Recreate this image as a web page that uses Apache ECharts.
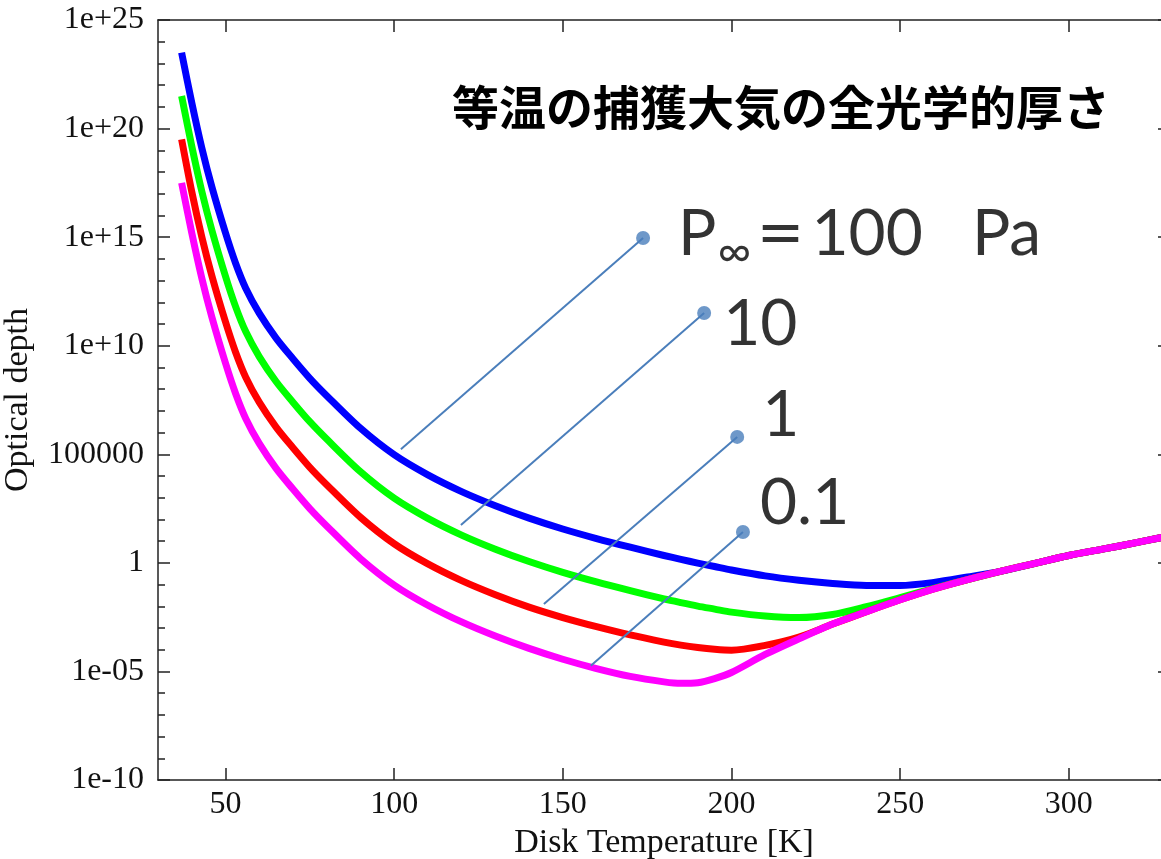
<!DOCTYPE html>
<html>
<head>
<meta charset="utf-8">
<script src="https://cdn.jsdelivr.net/npm/echarts@6/dist/echarts.min.js"></script>
<style>
html,body{margin:0;padding:0;background:#ffffff;}
#chart{width:1161px;height:859px;}
</style>
</head>
<body>
<div id="chart"></div>
<script>
// ---- data ----
const temperatureK = [37, 40, 43, 46, 50, 53, 56, 60, 65, 70, 75, 80, 90, 100, 110, 120, 130, 140, 150, 160, 170, 180, 185, 190, 195, 200, 210, 220, 230, 240, 250, 260, 270, 280, 290, 300, 310, 320, 327.5];
// log10(optical depth) for each pressure
const log10TauP100 = [23.5, 21.2, 19.1, 17.3, 15.2, 13.8, 12.65, 11.5, 10.35, 9.4, 8.5, 7.7, 6.2, 4.98, 4.05, 3.28, 2.63, 2.06, 1.56, 1.12, 0.72, 0.34, 0.16, -0.01, -0.17, -0.33, -0.6, -0.8, -0.95, -1.04, -1.04, -0.9, -0.65, -0.38, -0.02, 0.34, 0.63, 0.93, 1.17];
const log10TauP10  = [21.5, 19.2, 17.1, 15.3, 13.2, 11.8, 10.65, 9.5, 8.35, 7.4, 6.5, 5.7, 4.2, 2.98, 2.05, 1.28, 0.63, 0.06, -0.44, -0.88, -1.28, -1.66, -1.83, -1.99, -2.13, -2.27, -2.45, -2.52, -2.38, -2.02, -1.6, -1.17, -0.77, -0.38, -0.02, 0.34, 0.63, 0.93, 1.17];
const log10TauP1   = [19.5, 17.1, 15.0, 13.2, 11.1, 9.7, 8.55, 7.4, 6.25, 5.3, 4.4, 3.6, 2.1, 0.88, -0.05, -0.82, -1.47, -2.04, -2.52, -2.94, -3.32, -3.65, -3.79, -3.9, -3.98, -4.02, -3.8, -3.42, -2.82, -2.25, -1.7, -1.2, -0.77, -0.38, -0.02, 0.34, 0.63, 0.93, 1.17];
const log10TauP01  = [17.5, 15.2, 13.1, 11.3, 9.2, 7.8, 6.65, 5.5, 4.35, 3.4, 2.5, 1.7, 0.2, -1.02, -1.95, -2.72, -3.37, -3.94, -4.44, -4.87, -5.23, -5.48, -5.55, -5.52, -5.33, -5.05, -4.22, -3.5, -2.82, -2.25, -1.7, -1.2, -0.77, -0.38, -0.02, 0.34, 0.63, 0.93, 1.17];
const pressureLabels = ['100', '10', '1', '0.1'];

const xTickValues = [50, 100, 150, 200, 250, 300];
const yTickValues = [1e-10, 1e-5, 1, 1e5, 1e10, 1e15, 1e20, 1e25];
const yTickLabels = ['1e-10', '1e-05', '1', '100000', '1e+10', '1e+15', '1e+20', '1e+25'];
const yMinorTickValues = [1e-10,1e-9,1e-8,1e-7,1e-6,1e-5,1e-4,1e-3,1e-2,1e-1,1,1e1,1e2,1e3,1e4,1e5,1e6,1e7,1e8,1e9,1e10,1e11,1e12,1e13,1e14,1e15,1e16,1e17,1e18,1e19,1e20,1e21,1e22,1e23,1e24,1e25];

// annotation anchors (data units): dot next to the label, and the end touching the curve
const annotationDotT = [173.8, 191.9, 201.7, 203.4];
const annotationDotLog10 = [14.96, 11.51, 5.80, 1.42];
const annotationEndT = [102.0, 119.8, 144.4, 158.3];
const annotationEndLog10 = [5.23, 1.74, -1.90, -4.74];

const titleText = '等温の捕獲大気の全光学的厚さ';

// ---- build ----
function pairs(ts, logs) { return ts.map((t, i) => [t, Math.pow(10, logs[i])]); }

const curveColors = ['#0000ff', '#00ff00', '#ff0000', '#ff00ff'];
const curveLogs = [log10TauP100, log10TauP10, log10TauP1, log10TauP01];
const leaderColor = '#4a7ebb';
const labelOffsets = [[28, -4], [12, 11], [18, -22], [10, -29]];

const axisColor = '#222';
const serif = 'Liberation Serif, Times New Roman, serif';

const series = [];
curveLogs.forEach((logs, i) => {
  series.push({
    type: 'line', name: pressureLabels[i],
    data: pairs(temperatureK, logs),
    showSymbol: false, symbol: 'none',
    smooth: 0.3,
    lineStyle: { color: curveColors[i], width: 7, cap: 'butt', join: 'round' },
    silent: true, z: 2 + i
  });
});
annotationDotT.forEach((t, i) => {
  series.push({
    type: 'line', silent: true, symbol: 'none', showSymbol: false,
    data: [[annotationEndT[i], Math.pow(10, annotationEndLog10[i])], [t, Math.pow(10, annotationDotLog10[i])]],
    lineStyle: { color: leaderColor, width: 2 }, z: 10
  });
});
series.push({
  type: 'scatter', silent: true, symbol: 'circle', symbolSize: 14,
  itemStyle: { color: leaderColor },
  z: 11,
  data: annotationDotT.map((t, i) => ({
    value: [t, Math.pow(10, annotationDotLog10[i])],
    label: {
      show: true, position: 'right', distance: 0, offset: labelOffsets[i],
      formatter: i === 0 ? '{a|P}{inf|∞}{eq|＝}{a|' + pressureLabels[i] + '   Pa}' : pressureLabels[i],
      fontFamily: 'Lato', fontSize: 64, lineHeight: 64, color: '#000',
      rich: {
        a: { fontFamily: 'Lato', fontSize: 64, lineHeight: 64, color: '#000' },
        inf: { fontFamily: 'Lato', fontSize: 46, lineHeight: 46, color: '#000', padding: [37, 0, 0, 1] },
        eq: { fontFamily: 'Noto Sans CJK JP', fontWeight: 'bold', fontSize: 50, lineHeight: 64, color: '#000', padding: [0, 6, 0, 4] }
      }
    }
  }))
});

function yLabel(v) {
  const e = Math.round(Math.log10(v));
  for (let i = 0; i < yTickValues.length; i++) {
    if (Math.round(Math.log10(yTickValues[i])) === e) return yTickLabels[i];
  }
  return '';
}

const yBase = { type: 'log', logBase: 10, min: 1e-10, max: 1e25, splitLine: { show: false }, axisPointer: { show: false } };

const option = {
  animation: false,
  backgroundColor: '#ffffff',
  title: {
    text: titleText, left: 452, top: 84, padding: 0,
    textStyle: { fontFamily: 'Noto Sans CJK JP', fontWeight: 'bold', fontSize: 47, color: '#000' }
  },
  grid: { left: 158, top: 20, width: 1012, height: 760, containLabel: false, outerBoundsMode: 'none' },
  xAxis: [
    {
      type: 'value', min: 30, max: 330, position: 'bottom',
      name: 'Disk Temperature [K]', nameLocation: 'middle', nameGap: 42,
      nameTextStyle: { fontFamily: serif, fontSize: 34, color: '#111' },
      axisLine: { show: true, onZero: false, lineStyle: { color: axisColor, width: 1.5 } },
      axisTick: { show: true, inside: true, length: 12, customValues: xTickValues, lineStyle: { color: axisColor, width: 1.5 } },
      axisLabel: { show: true, customValues: xTickValues, margin: 9, fontFamily: serif, fontSize: 32, color: '#111' },
      splitLine: { show: false }
    },
    {
      type: 'value', min: 30, max: 330, position: 'top',
      axisLine: { show: true, onZero: false, lineStyle: { color: axisColor, width: 1.5 } },
      axisTick: { show: true, inside: true, length: 12, customValues: xTickValues, lineStyle: { color: axisColor, width: 1.5 } },
      axisLabel: { show: false },
      splitLine: { show: false }
    }
  ],
  yAxis: [
    Object.assign({}, yBase, {
      position: 'left',
      name: 'Optical depth', nameLocation: 'middle', nameGap: 123,
      nameTextStyle: { fontFamily: serif, fontSize: 34, color: '#111' },
      axisLine: { show: true, onZero: false, lineStyle: { color: axisColor, width: 1.5 } },
      axisTick: { show: true, inside: true, length: 12, customValues: yTickValues, lineStyle: { color: axisColor, width: 1.5 } },
      axisLabel: { show: true, customValues: yTickValues, formatter: yLabel, margin: 14, fontFamily: serif, fontSize: 32, color: '#111' }
    }),
    Object.assign({}, yBase, {
      position: 'left',
      axisLine: { show: false },
      axisTick: { show: true, inside: true, length: 7, customValues: yMinorTickValues, lineStyle: { color: axisColor, width: 1.5 } },
      axisLabel: { show: false }
    }),
    Object.assign({}, yBase, {
      position: 'right',
      axisLine: { show: true, onZero: false, lineStyle: { color: axisColor, width: 1.5 } },
      axisTick: { show: true, inside: true, length: 12, customValues: yTickValues, lineStyle: { color: axisColor, width: 1.5 } },
      axisLabel: { show: false }
    }),
    Object.assign({}, yBase, {
      position: 'right',
      axisLine: { show: false },
      axisTick: { show: true, inside: true, length: 7, customValues: yMinorTickValues, lineStyle: { color: axisColor, width: 1.5 } },
      axisLabel: { show: false }
    })
  ],
  series: series
};

const chart = echarts.init(document.getElementById('chart'), null, { renderer: 'canvas' });
chart.setOption(option);
</script>
</body>
</html>
